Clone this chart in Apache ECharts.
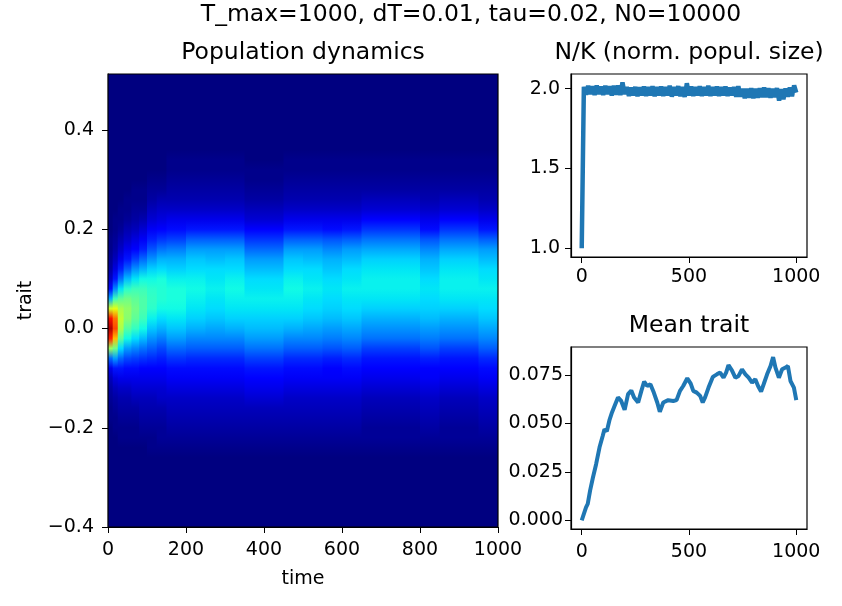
<!DOCTYPE html>
<html lang="en">
<head>
<meta charset="UTF-8">
<title>Population dynamics</title>
<script src="https://cdn.jsdelivr.net/npm/echarts@6/dist/echarts.min.js"></script>
<style>
    html, body { margin: 0; padding: 0; background: #fff; }
    #main { width: 842px; height: 606px; }
</style>
</head>
<body>
<div id="main"></div>
<script>
// time bin edges of the density image (columns)
var timeEdges = [0, 12, 25, 40, 60, 80, 100, 125, 150, 200, 250, 300, 350, 400, 450, 500, 550, 600, 650, 700, 750, 800, 850, 900, 950, 1000];

// trait bin centres (rows), bottom to top
var traitCenters = [-0.40, -0.38, -0.36, -0.34, -0.32, -0.30, -0.28, -0.26, -0.24, -0.22, -0.20, -0.18, -0.16, -0.14, -0.12, -0.10, -0.08, -0.06, -0.04, -0.02,
    0.00, 0.02, 0.04, 0.06, 0.08, 0.10, 0.12, 0.14, 0.16, 0.18, 0.20, 0.22, 0.24, 0.26, 0.28, 0.30, 0.32, 0.34, 0.36, 0.38, 0.40, 0.42, 0.44, 0.46, 0.48, 0.50, 0.52];

// density (0-100) per time column, one value per trait row
var density = [
    [3,3,3,3,3,3,3,3,3,3,3, 4,4,5,6,8,12,25,55,88,96,90,62,32,16,9,6,5,4,4, 3,3,3,3,3,3,3,3,3,3,3,3,3,3,3,3,3],
    [3,3,3,3,3,3,3,3,3,3, 4,4,5,6,8,11,17,30,50,72,84,80,64,44,28,17,11,8,6,5,4,4, 3,3,3,3,3,3,3,3,3,3,3,3,3,3,3],
    [3,3,3,3,3,3,3,3,3, 4,4,5,6,7,9,12,17,25,36,48,57,60,57,48,37,26,18,12,9,7,5,4,4, 3,3,3,3,3,3,3,3,3,3,3,3,3,3],
    [3,3,3,3,3,3,3,3,3, 4,4,5,6,7,9,12,16,22,30,39,47,53,54,50,42,33,24,17,12,9,7,5,4,4, 3,3,3,3,3,3,3,3,3,3,3,3,3],
    [3,3,3,3,3,3,3,3,3, 4,4,5,6,8,10,12,16,21,28,36,43,48,50,48,44,37,29,21,15,11,8,6,5,4,4, 3,3,3,3,3,3,3,3,3,3,3,3],
    [3,3,3,3,3,3,3,3,3, 4,5,6,7,8,10,12,15,20,26,33,39,44,46,46,44,39,32,25,18,13,10,7,5,4,4, 3,3,3,3,3,3,3,3,3,3,3,3],
    [3,3,3,3,3,3,3,3, 4,4,5,6,7,8,10,12,15,19,24,29,34,38,42,43,42,39,35,29,23,18,13,10,8,6,5,4, 3,3,3,3,3,3,3,3,3,3,3],
    [3,3,3,3,3,3,3,3, 4,5,5,6,7,9,10,12,14,18,22,27,32,36,39,41,41,40,36,32,26,20,15,11,9,7,5,4, 3,3,3,3,3,3,3,3,3,3,3],
    [3,3,3,3,3,3,3,3, 4,5,6,7,8,9,11,13,16,20,25,30,34,37,39,40,40,38,35,32,27,21,16,12,9,7,6,5,4,4,3, 3,3,3,3,3,3,3,3],
    [3,3,3,3,3,3,3,3, 4,5,6,7,8,9,11,13,16,19,24,28,32,35,37,38,39,38,36,34,30,24,17,12,9,7,6,5,4,4,3, 3,3,3,3,3,3,3,3],
    [3,3,3,3,3,3,3,3, 4,5,6,7,8,9,11,13,16,19,24,28,31,34,36,37,38,37,36,33,30,24,17,12,9,7,6,5,4,4,3, 3,3,3,3,3,3,3,3],
    [3,3,3,3,3,3,3,3, 4,5,6,7,8,9,11,13,16,19,24,28,32,35,37,38,39,38,36,34,30,24,17,12,9,7,6,5,4,4,3, 3,3,3,3,3,3,3,3],
    [3,3,3,3,3,3,3,3, 4,5,6,7,8,10,12,14,17,21,26,30,33,35,37,38,37,36,33,30,25,20,14,10,8,6,5,4,4,3,3, 3,3,3,3,3,3,3,3],
    [3,3,3,3,3,3,3,3, 4,5,6,7,8,10,12,14,17,21,26,30,33,35,37,38,37,36,33,30,25,20,14,10,8,6,5,4,4,3,3, 3,3,3,3,3,3,3,3],
    [3,3,3,3,3,3,3,3, 4,5,6,7,8,9,11,13,16,19,24,28,32,35,37,38,39,38,36,34,30,24,17,12,9,7,6,5,4,4,3, 3,3,3,3,3,3,3,3],
    [3,3,3,3,3,3,3,3, 4,5,6,7,8,9,11,13,16,19,24,28,31,34,36,37,38,37,36,33,30,24,17,12,9,7,6,5,4,4,3, 3,3,3,3,3,3,3,3],
    [3,3,3,3,3,3,3,3, 4,5,6,7,8,9,11,13,15,18,23,27,30,33,35,36,37,36,34,32,28,23,16,12,9,7,6,5,4,4,3, 3,3,3,3,3,3,3,3],
    [3,3,3,3,3,3,3,3, 4,5,6,7,8,9,11,13,16,19,24,28,31,34,36,37,38,37,36,33,30,24,17,12,9,7,6,5,4,4,3, 3,3,3,3,3,3,3,3],
    [3,3,3,3,3,3,3,3, 4,5,5,6,7,8,10,12,14,17,21,26,29,32,35,37,38,38,37,35,31,26,20,14,10,8,6,5,4,4,3, 3,3,3,3,3,3,3,3],
    [3,3,3,3,3,3,3,3, 4,5,5,6,7,8,10,12,14,17,21,26,29,32,35,37,38,38,37,35,31,26,20,14,10,8,6,5,4,4,3, 3,3,3,3,3,3,3,3],
    [3,3,3,3,3,3,3,3, 4,5,5,6,7,8,10,12,14,17,21,26,29,32,35,37,38,38,37,35,31,26,20,14,10,8,6,5,4,4,3, 3,3,3,3,3,3,3,3],
    [3,3,3,3,3,3,3,3, 4,5,6,7,8,9,11,13,15,18,23,27,30,33,35,36,37,36,34,32,28,23,16,12,9,7,6,5,4,4,3, 3,3,3,3,3,3,3,3],
    [3,3,3,3,3,3,3,3, 4,5,5,6,7,8,10,12,14,17,21,26,29,32,35,37,38,38,37,35,31,26,20,14,10,8,6,5,4,4,3, 3,3,3,3,3,3,3,3],
    [3,3,3,3,3,3,3,3, 4,5,5,6,7,8,10,12,14,17,21,26,29,32,35,37,38,38,37,35,31,26,20,14,10,8,6,5,4,4,3, 3,3,3,3,3,3,3,3],
    [3,3,3,3,3,3,3,3, 4,5,6,7,8,9,11,13,16,19,24,28,31,34,36,37,38,37,36,33,30,24,17,12,9,7,6,5,4,4,3, 3,3,3,3,3,3,3,3]
];

// N/K, sampled every 10 time units
var nkValues = [1.00, 2.012, 1.962, 2.018, 1.966, 2.015, 1.96, 2.02, 1.965, 2.013,
    1.96, 2.018, 1.966, 2.015, 1.957, 2.018, 1.962, 2.02, 1.96, 2.04,
    1.966, 2.011, 1.954, 2.007, 1.958, 2.011, 1.953, 2.009, 1.957, 2.014,
    1.954, 2.011, 1.958, 2.015, 1.953, 2.01, 1.958, 2.014, 1.954, 2.011,
    1.958, 2.018, 1.95, 2.011, 1.958, 2.016, 1.953, 2.011, 1.948, 2.034,
    1.958, 2.014, 1.954, 2.011, 1.958, 2.015, 1.954, 2.01, 1.958, 2.018,
    1.954, 2.011, 1.958, 2.014, 1.954, 2.01, 1.958, 2.014, 1.954, 2.007,
    1.957, 2.011, 1.95, 2.015, 1.95, 2.0, 1.94, 1.999, 1.943, 2.003,
    1.94, 1.999, 1.943, 2.003, 1.947, 2.008, 1.947, 2.003, 1.943, 1.999,
    1.947, 2.004, 1.925, 1.997, 1.934, 2.001, 1.95, 2.008, 1.952, 2.02,
    1.975];

// mean trait
var meanTime = [0, 20, 28, 39, 52, 67, 83, 98, 106, 117, 130, 141, 153, 169, 184, 200, 216, 231, 244, 263,
    278, 291, 305, 320, 336, 352, 364, 380, 403, 427, 442, 458, 473, 492, 508, 520, 536, 552, 564, 575,
    591, 611, 630, 645, 661, 673, 684, 700, 716, 731, 747, 763, 778, 794, 809, 822, 836, 848, 864, 880,
    892, 903, 919, 934, 950, 961, 973, 989, 1000];
var meanValues = [0, 0.0068, 0.0086, 0.0154, 0.022, 0.029, 0.0377, 0.0437, 0.047, 0.046, 0.052, 0.0557, 0.059, 0.0634, 0.0616, 0.057, 0.0651, 0.067, 0.0634, 0.0608,
    0.0668, 0.0716, 0.0693, 0.0702, 0.0659, 0.0608, 0.056, 0.0608, 0.062, 0.0616, 0.062, 0.0668, 0.0693, 0.0733, 0.0705, 0.0668, 0.0659, 0.0642, 0.0608, 0.0634,
    0.0685, 0.074, 0.0753, 0.0762, 0.0736, 0.0762, 0.0801, 0.0774, 0.0736, 0.0745, 0.0779, 0.0753, 0.0736, 0.071, 0.0728, 0.0693, 0.0664, 0.0702, 0.0753, 0.0796,
    0.0842, 0.0788, 0.0736, 0.0779, 0.0788, 0.0796, 0.0719, 0.0685, 0.062];

var heatTicks = [-0.4, -0.2, 0, 0.2, 0.4];
var timeTicks = [0, 500, 1000];
var nkTicks = [1.0, 1.5, 2.0];
var meanTicks = [0, 0.025, 0.05, 0.075];

var font = 'DejaVu Sans';
var blue = '#1f77b4';

// matplotlib 'jet' segments
var jetR = [[0, 0], [0.35, 0], [0.66, 1], [0.89, 1], [1, 0.5]];
var jetG = [[0, 0], [0.125, 0], [0.375, 1], [0.64, 1], [0.91, 0], [1, 0]];
var jetB = [[0, 0.5], [0.11, 1], [0.34, 1], [0.65, 0], [1, 0]];
var vMin = 3, vMax = 100;

function seg(s, f) {
    for (var i = 1; i < s.length; i++) {
        if (f <= s[i][0]) {
            var a = s[i - 1], b = s[i];
            return a[1] + (b[1] - a[1]) * (f - a[0]) / (b[0] - a[0]);
        }
    }
    return s[s.length - 1][1];
}
function jet(v) {
    var f = Math.max(0, Math.min(1, (v - vMin) / (vMax - vMin)));
    return 'rgb(' + Math.round(seg(jetR, f) * 255) + ',' + Math.round(seg(jetG, f) * 255) + ',' + Math.round(seg(jetB, f) * 255) + ')';
}

// one item per time column
var columns = density.map(function (col, c) {
    return [timeEdges[c], timeEdges[c + 1], c];
});
var nkData = nkValues.map(function (v, i) { return [i * 10, v]; });
var meanData = meanValues.map(function (v, i) { return [meanTime[i], v]; });

function minus(s) { return String(s).replace('-', '\u2212'); }

var labelStyle = { color: '#000', fontSize: 19, fontFamily: font };
var tickStyle = { show: true, inside: false, length: 6, lineStyle: { color: '#000', width: 1 } };
var lineStyle = { show: true, onZero: false, lineStyle: { color: '#000', width: 1.2 } };
var titleStyle = { color: '#000', fontSize: 23.5, fontWeight: 'normal', fontFamily: font };
var plainNum = function (v) { return String(v); };

var myChart = echarts.init(document.getElementById('main'), null, { renderer: 'canvas' });
var option = {
    backgroundColor: '#fff',
    animation: false,
    title: [
        { text: 'T_max=1000, dT=0.01, tau=0.02, N0=10000', left: 471, top: 3, padding: 0, textAlign: 'center', textStyle: titleStyle },
        { text: 'Population dynamics', left: 303, top: 41, padding: 0, textAlign: 'center', textStyle: titleStyle },
        { text: 'N/K (norm. popul. size)', left: 689, top: 41, padding: 0, textAlign: 'center', textStyle: titleStyle },
        { text: 'Mean trait', left: 689, top: 314, padding: 0, textAlign: 'center', textStyle: titleStyle }
    ],
    grid: [
        { left: 108, top: 74, width: 390, height: 453, show: true, z: 3, backgroundColor: 'transparent', borderColor: '#000', borderWidth: 1.2 },
        { left: 571, top: 74, width: 236, height: 183, show: true, backgroundColor: 'transparent', borderColor: '#000', borderWidth: 1.2 },
        { left: 571, top: 347, width: 236, height: 182, show: true, backgroundColor: 'transparent', borderColor: '#000', borderWidth: 1.2 }
    ],
    xAxis: [
        {
            gridIndex: 0, type: 'value', min: 0, max: 1000, interval: 200,
            name: 'time', nameLocation: 'middle', nameGap: 43, nameTextStyle: labelStyle,
            axisLine: lineStyle, axisTick: tickStyle,
            axisLabel: Object.assign({ margin: 14, formatter: plainNum }, labelStyle),
            splitLine: { show: false }
        },
        {
            gridIndex: 1, type: 'value', min: -50, max: 1050,
            axisLine: lineStyle,
            axisTick: Object.assign({ customValues: timeTicks }, tickStyle),
            axisLabel: Object.assign({ margin: 11, customValues: timeTicks, formatter: plainNum }, labelStyle),
            splitLine: { show: false }
        },
        {
            gridIndex: 2, type: 'value', min: -50, max: 1050,
            axisLine: lineStyle,
            axisTick: Object.assign({ customValues: timeTicks }, tickStyle),
            axisLabel: Object.assign({ margin: 14, customValues: timeTicks, formatter: plainNum }, labelStyle),
            splitLine: { show: false }
        }
    ],
    yAxis: [
        {
            gridIndex: 0, type: 'value', min: -0.4, max: 0.513,
            name: 'trait', nameLocation: 'middle', nameGap: 72, nameRotate: 90, nameTextStyle: labelStyle,
            axisLine: lineStyle,
            axisTick: Object.assign({ customValues: heatTicks }, tickStyle),
            axisLabel: Object.assign({
                margin: 14, customValues: heatTicks,
                formatter: function (v) { return minus(v.toFixed(1)); }
            }, labelStyle),
            splitLine: { show: false }
        },
        {
            gridIndex: 1, type: 'value', min: 0.945, max: 2.092,
            axisLine: lineStyle,
            axisTick: Object.assign({ customValues: nkTicks }, tickStyle),
            axisLabel: Object.assign({
                margin: 11, customValues: nkTicks,
                formatter: function (v) { return v.toFixed(1); }
            }, labelStyle),
            splitLine: { show: false }
        },
        {
            gridIndex: 2, type: 'value', min: -0.0044, max: 0.0894,
            axisLine: lineStyle,
            axisTick: Object.assign({ customValues: meanTicks }, tickStyle),
            axisLabel: Object.assign({
                margin: 8, customValues: meanTicks,
                formatter: function (v) { return v.toFixed(3); }
            }, labelStyle),
            splitLine: { show: false }
        }
    ],
    series: [
        {
            // each time column is one rect, shaded top to bottom through its trait profile
            type: 'custom',
            xAxisIndex: 0,
            yAxisIndex: 0,
            clip: true,
            z: 1,
            encode: { x: [0, 1] },
            renderItem: function (params, api) {
                var c = api.value(2);
                var col = density[c];
                var top = traitCenters[traitCenters.length - 1] + 0.01;
                var bottom = traitCenters[0] - 0.01;
                var p0 = api.coord([api.value(0), top]);
                var p1 = api.coord([api.value(1), bottom]);
                var h = p1[1] - p0[1];
                var stops = [];
                for (var r = col.length - 1; r >= 0; r--) {
                    var py = api.coord([api.value(0), traitCenters[r]])[1];
                    stops.push({ offset: (py - p0[1]) / h, color: jet(col[r]) });
                }
                var grad = new echarts.graphic.LinearGradient(0, 0, 0, 1, stops);
                return {
                    type: 'rect',
                    shape: { x: p0[0], y: p0[1], width: p1[0] - p0[0] + 1, height: h },
                    style: { fill: grad }
                };
            },
            data: columns
        },
        {
            type: 'line',
            xAxisIndex: 1,
            yAxisIndex: 1,
            showSymbol: false,
            lineStyle: { color: blue, width: 4.5 },
            data: nkData
        },
        {
            type: 'line',
            xAxisIndex: 2,
            yAxisIndex: 2,
            showSymbol: false,
            lineStyle: { color: blue, width: 4 },
            data: meanData
        }
    ]
};
myChart.setOption(option);
</script>
</body>
</html>
